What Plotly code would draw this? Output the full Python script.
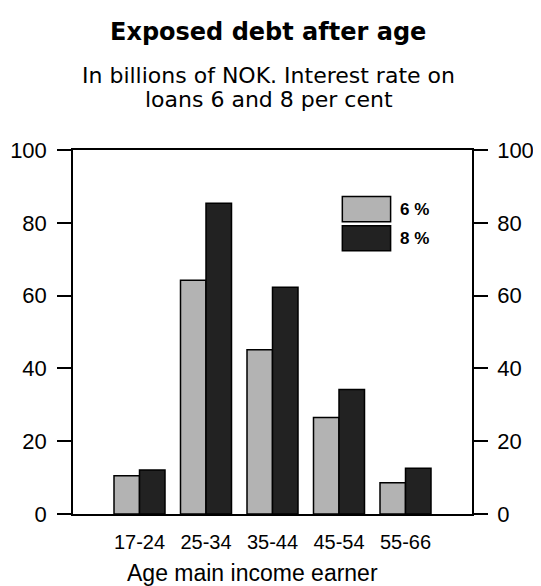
import plotly.graph_objects as go

categories = ["17-24", "25-34", "35-44", "45-54", "55-66"]
series_names = ["6 %", "8 %"]
values_6 = [10.5, 64.2, 45.1, 26.5, 8.6]
values_8 = [12.1, 85.4, 62.3, 34.2, 12.6]
y_ticks = [0, 20, 40, 60, 80, 100]

LIGHT = "#b3b3b3"
DARK = "#222222"
SANS = "Liberation Sans, Arial, sans-serif"
WIDE = "DejaVu Sans, Verdana, sans-serif"

fig = go.Figure()
fig.add_trace(go.Bar(x=categories, y=values_6, name=series_names[0],
                     marker=dict(color=LIGHT, line=dict(color="black", width=1.5)),
                     showlegend=False))
fig.add_trace(go.Bar(x=categories, y=values_8, name=series_names[1],
                     marker=dict(color=DARK, line=dict(color="black", width=1.5)),
                     showlegend=False))
# invisible trace so the right-hand axis is drawn
fig.add_trace(go.Scatter(x=[categories[0]], y=[None], yaxis="y2",
                         showlegend=False, hoverinfo="skip"))

axis_common = dict(range=[0, 100], tickvals=y_ticks, ticks="outside", ticklen=14,
                   tickwidth=1.5, tickcolor="black", showgrid=False, zeroline=False,
                   showline=True, linecolor="black", linewidth=1.5,
                   automargin=False,
                   tickfont=dict(family=SANS, size=22, color="black"))

# page has an 8px body margin, so the figure is 8px smaller than the window
fig.update_layout(
    width=533, height=578,
    margin=dict(l=65, r=69, t=142, b=72, autoexpand=False),
    paper_bgcolor="white", plot_bgcolor="white",
    barmode="group", bargap=0.233, bargroupgap=0,
    xaxis=dict(type="category", range=[-1, 5], showgrid=False, showline=True,
               mirror=True, linecolor="black", linewidth=1.5, ticks="",
               ticklabelstandoff=9, automargin=False,
               tickfont=dict(family=SANS, size=20, color="black")),
    yaxis=dict(side="left", ticklabelstandoff=6, **axis_common),
    yaxis2=dict(side="right", overlaying="y", ticklabelstandoff=5, **axis_common),
)

fig.add_annotation(text="<b>Exposed debt after age</b>", xref="paper", yref="paper",
                   x=0.4875, y=1.325, xanchor="center", yanchor="middle",
                   showarrow=False, font=dict(family=WIDE, size=24, color="black"))
fig.add_annotation(text="In billions of NOK. Interest rate on",
                   xref="paper", yref="paper", x=0.491, y=1.205, xanchor="center",
                   yanchor="middle", showarrow=False,
                   font=dict(family=WIDE, size=22, color="black"))
fig.add_annotation(text="loans 6 and 8 per cent",
                   xref="paper", yref="paper", x=0.491, y=1.138, xanchor="center",
                   yanchor="middle", showarrow=False,
                   font=dict(family=WIDE, size=22, color="black"))
fig.add_annotation(text="Age main income earner", xref="paper", yref="paper",
                   x=0.45, y=-0.161, xanchor="center", yanchor="middle",
                   showarrow=False, font=dict(family=SANS, size=23, color="black"))

# custom legend with large swatches
legend_rows = [(series_names[0], LIGHT, 0.872, 0.803), (series_names[1], DARK, 0.792, 0.723)]
for name, col, y1, y0 in legend_rows:
    fig.add_shape(type="rect", xref="paper", yref="paper", x0=0.675, x1=0.796,
                  y0=y0, y1=y1, fillcolor=col, line=dict(color="black", width=1.5))
    fig.add_annotation(text="<b>" + name + "</b>", xref="paper", yref="paper",
                       x=0.815, y=(y0 + y1) / 2, xanchor="left", yanchor="middle",
                       showarrow=False, font=dict(family=SANS, size=17, color="black"))

fig.write_html("out.html")
